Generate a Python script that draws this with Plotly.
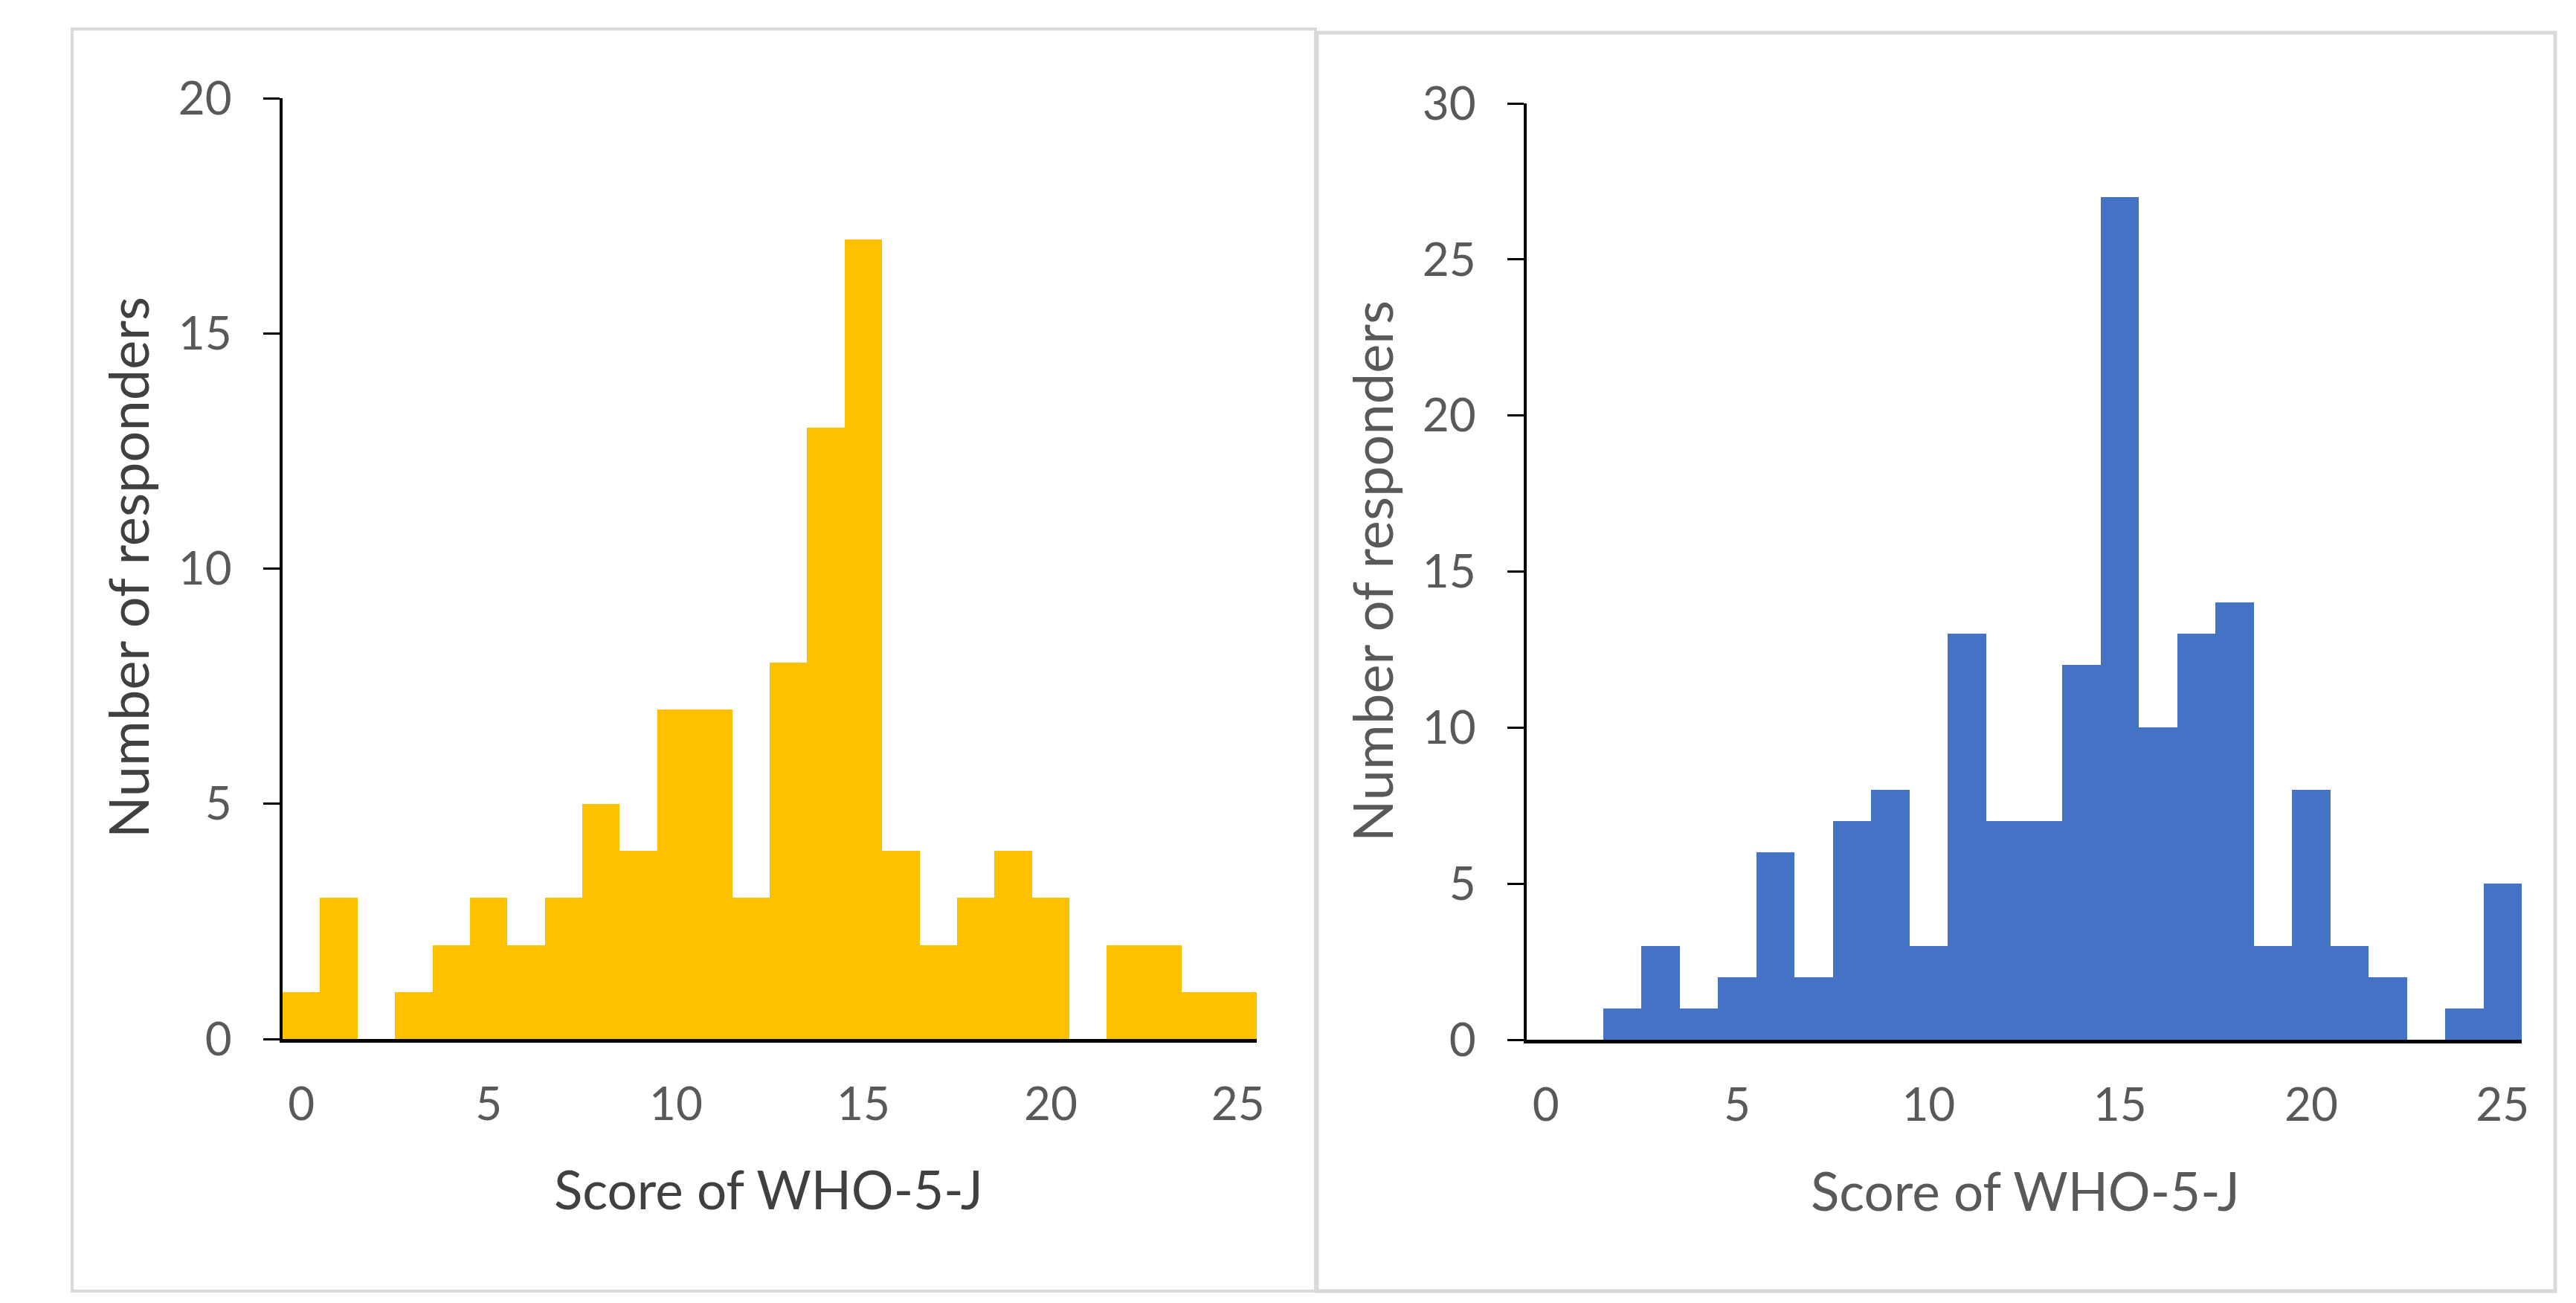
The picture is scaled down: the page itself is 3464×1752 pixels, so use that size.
import plotly.graph_objects as go

W, H = 3464, 1752

scores = list(range(0, 26))
left_counts = [1, 3, 0, 1, 2, 3, 2, 3, 5, 4, 7, 7, 3, 8, 13, 17, 4, 2, 3, 4, 3, 0, 2, 2, 1, 1]
right_counts = [0, 0, 1, 3, 1, 2, 6, 2, 7, 8, 3, 13, 7, 7, 12, 27, 10, 13, 14, 3, 8, 3, 2, 0, 1, 5]
x_ticks = [0, 5, 10, 15, 20, 25]
left_y_ticks = [0, 5, 10, 15, 20]
right_y_ticks = [0, 5, 10, 15, 20, 25, 30]
x_title = "Score of WHO-5-J"
y_title = "Number of responders"

YELLOW = "#FFC000"
BLUE = "#4472C4"
FONT = "Lato"

def px(x):
    return x / W

def py(y):
    return 1 - y / H

fig = go.Figure()
fig.add_trace(go.Bar(x=scores, y=left_counts, width=1, marker=dict(color=YELLOW, line=dict(width=0)),
                     xaxis="x", yaxis="y", showlegend=False))
fig.add_trace(go.Bar(x=scores, y=right_counts, width=1, marker=dict(color=BLUE, line=dict(width=0)),
                     xaxis="x2", yaxis="y2", showlegend=False))

tickfont = dict(family=FONT, size=62, color="#595959")

def xaxis(domain, anchor):
    return dict(domain=domain, anchor=anchor, range=[-0.5, 25.5], tickvals=x_ticks,
                showgrid=False, zeroline=False, showline=True, linecolor="black", linewidth=5,
                ticks="", tickfont=tickfont, ticklabelstandoff=30, fixedrange=True, automargin=False)

def yaxis(domain, anchor, top, ticks):
    return dict(domain=domain, anchor=anchor, range=[0, top], tickvals=ticks,
                showgrid=False, zeroline=False, showline=True, linecolor="black", linewidth=4,
                ticks="outside", ticklen=22, tickwidth=3, tickcolor="black",
                tickfont=tickfont, ticklabelstandoff=30, fixedrange=True, automargin=False)

fig.update_layout(
    width=W, height=H, autosize=False, margin=dict(l=0, r=0, t=0, b=0, pad=0, autoexpand=False),
    paper_bgcolor="white", plot_bgcolor="white", bargap=0, showlegend=False,
    xaxis=xaxis([px(372), px(1682)], "y"),
    yaxis=yaxis([py(1389), py(124)], "x", 20, left_y_ticks),
    xaxis2=xaxis([px(2045), px(3383)], "y2"),
    yaxis2=yaxis([py(1390), py(131)], "x2", 30, right_y_ticks),
)

shapes = [
    dict(type="rect", xref="paper", yref="paper", x0=px(89), x1=px(1761), y0=py(31), y1=py(1728),
         line=dict(color="#D9D9D9", width=4), fillcolor="rgba(0,0,0,0)", layer="below"),
    dict(type="rect", xref="paper", yref="paper", x0=px(1763), x1=px(3428), y0=py(36), y1=py(1728),
         line=dict(color="#D9D9D9", width=5), fillcolor="rgba(0,0,0,0)", layer="below"),
]
fig.update_layout(shapes=shapes)

annotations = [
    dict(text=x_title, x=px(1025), y=py(1590), xref="paper", yref="paper", showarrow=False,
         xanchor="center", yanchor="middle", font=dict(family=FONT, size=71, color="#404040")),
    dict(text=y_title, x=px(163), y=py(755), xref="paper", yref="paper", showarrow=False, textangle=-90,
         xanchor="center", yanchor="middle", font=dict(family=FONT, size=74, color="#404040")),
    dict(text=x_title, x=px(2715), y=py(1592), xref="paper", yref="paper", showarrow=False,
         xanchor="center", yanchor="middle", font=dict(family=FONT, size=71, color="#595959")),
    dict(text=y_title, x=px(1836), y=py(760), xref="paper", yref="paper", showarrow=False, textangle=-90,
         xanchor="center", yanchor="middle", font=dict(family=FONT, size=74, color="#595959")),
]
fig.update_layout(annotations=annotations)

fig.write_html("out.html")
